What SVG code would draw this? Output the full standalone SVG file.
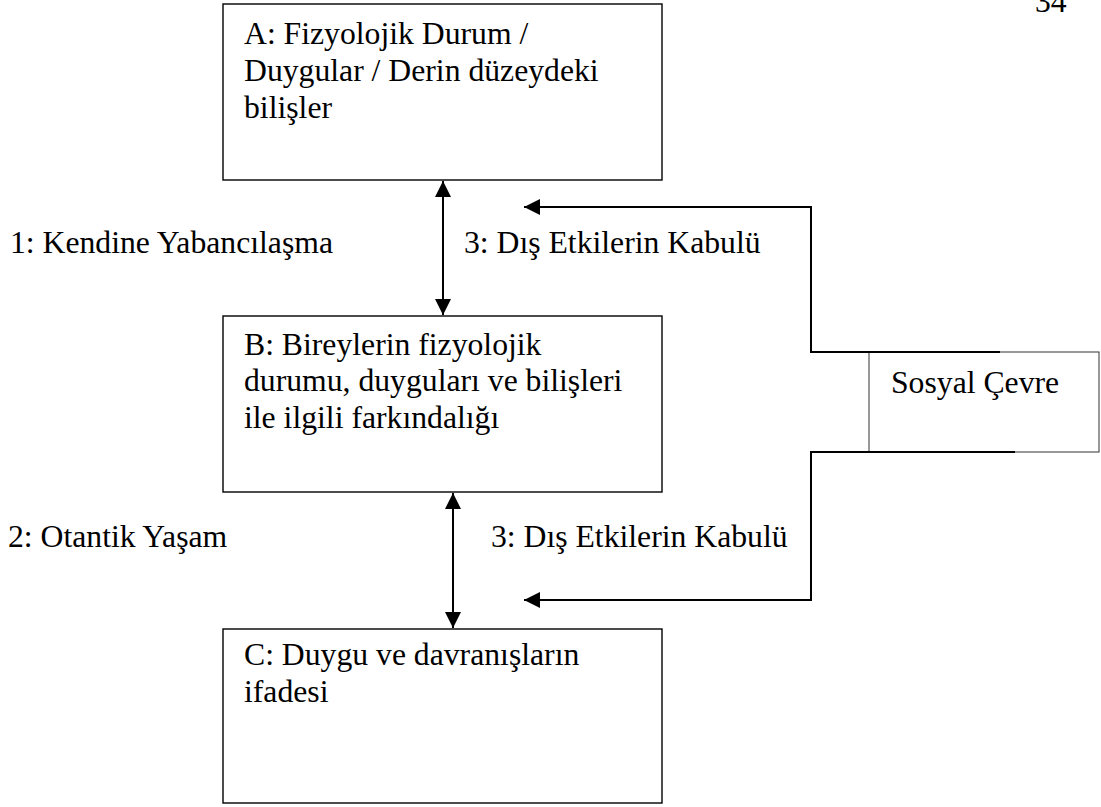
<svg xmlns="http://www.w3.org/2000/svg" width="1101" height="807" viewBox="0 0 1101 807">
<style>
.box{fill:#fff;stroke:#000;stroke-width:1.4}
.env{fill:#fff;stroke:#333;stroke-width:1}
.t{font-family:'Liberation Serif','Times New Roman',Tinos,'DejaVu Serif',serif;font-size:31.7px;fill:#000}
.c{fill:none;stroke:#000;stroke-width:2}
</style>
<defs>
<marker id="ah" markerUnits="userSpaceOnUse" markerWidth="16" markerHeight="16" viewBox="0 0 16 16" refX="16" refY="8" orient="auto-start-reverse">
<path d="M0,0 L16,8 L0,16 Z" fill="#000"/>
</marker>
</defs>
<rect width="1101" height="807" fill="#fff"/>
<text class="t" x="1035" y="12">34</text>
<g id="nodeA">
<rect class="box" x="223" y="4" width="439" height="176"/>
<text class="t" x="244" y="44">A: Fizyolojik Durum /</text>
<text class="t" x="244" y="81">Duygular / Derin düzeydeki</text>
<text class="t" x="244" y="118">bilişler</text>
</g>
<g id="nodeB">
<rect class="box" x="223" y="316" width="439" height="176"/>
<text class="t" x="244" y="355">B: Bireylerin fizyolojik</text>
<text class="t" x="244" y="391">durumu, duyguları ve bilişleri</text>
<text class="t" x="244" y="428">ile ilgili farkındalığı</text>
</g>
<g id="nodeC">
<rect class="box" x="223" y="629" width="439" height="174"/>
<text class="t" x="244" y="665">C: Duygu ve davranışların</text>
<text class="t" x="244" y="702">ifadesi</text>
</g>
<g id="nodeS">
<rect class="env" x="869" y="352" width="230" height="100"/>
<text class="t" x="891" y="393">Sosyal Çevre</text>
</g>
<g id="connectors">
<line class="c" x1="443" y1="181" x2="443" y2="315" marker-start="url(#ah)" marker-end="url(#ah)"/>
<line class="c" x1="453" y1="493" x2="453" y2="628" marker-start="url(#ah)" marker-end="url(#ah)"/>
<path class="c" d="M1000,352 H811 V207 H524" marker-end="url(#ah)"/>
<path class="c" d="M1015,452 H811 V600 H524" marker-end="url(#ah)"/>
</g>
<g id="labels">
<text class="t" x="10" y="253">1: Kendine Yabancılaşma</text>
<text class="t" x="464" y="253">3: Dış Etkilerin Kabulü</text>
<text class="t" x="8" y="547">2: Otantik Yaşam</text>
<text class="t" x="491" y="547">3: Dış Etkilerin Kabulü</text>
</g>
</svg>
